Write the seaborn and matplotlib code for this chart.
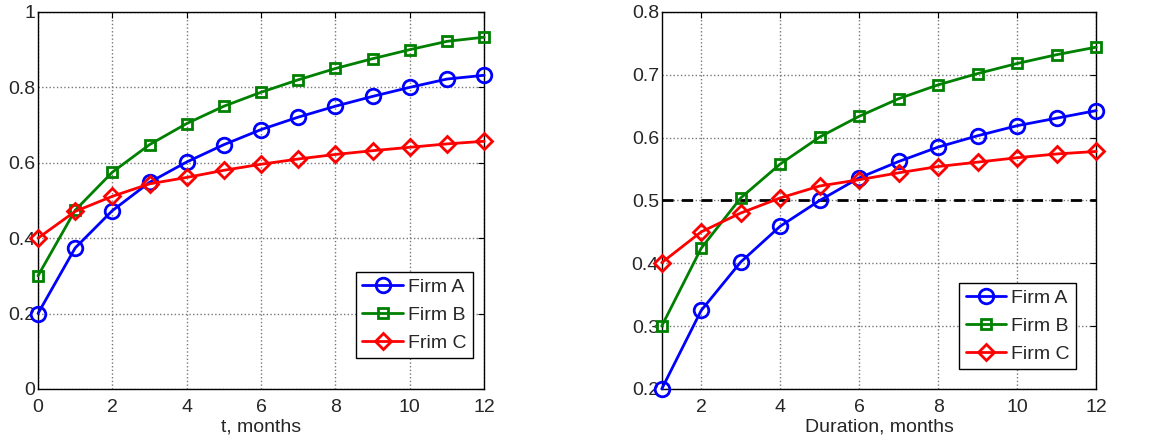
import matplotlib
matplotlib.use('Agg')
import matplotlib.pyplot as plt
import seaborn as sns

# left panel: t = 0..12
t_left = list(range(0, 13))
firm_a_left = [0.200, 0.374, 0.473, 0.548, 0.602, 0.648, 0.688, 0.721, 0.750, 0.776, 0.800, 0.822, 0.832]
firm_b_left = [0.300, 0.474, 0.575, 0.648, 0.704, 0.750, 0.787, 0.820, 0.850, 0.876, 0.900, 0.922, 0.933]
firm_c_left = [0.400, 0.471, 0.511, 0.544, 0.561, 0.580, 0.596, 0.610, 0.622, 0.632, 0.641, 0.650, 0.657]

# right panel: duration = 1..12
t_right = list(range(1, 13))
firm_a_right = [0.200, 0.325, 0.402, 0.459, 0.500, 0.536, 0.562, 0.585, 0.603, 0.619, 0.631, 0.643]
firm_b_right = [0.300, 0.424, 0.504, 0.558, 0.601, 0.634, 0.662, 0.684, 0.702, 0.718, 0.732, 0.744]
firm_c_right = [0.401, 0.450, 0.480, 0.504, 0.523, 0.533, 0.544, 0.554, 0.561, 0.568, 0.574, 0.578]
threshold = 0.5

labels = ['Firm A', 'Firm B', 'Frim C']
labels_right = ['Firm A', 'Firm B', 'Firm C']
colors = ['#0000ff', '#008000', '#ff0000']
markers = ['o', 's', 'D']
msizes = [10.5, 7.5, 8.5]

sns.set_style('white')
plt.rcParams['font.family'] = ['Liberation Sans', 'DejaVu Sans']

fig = plt.figure(figsize=(11.65, 4.42), dpi=100)
ax1 = fig.add_axes([0.0326, 0.12, 0.383, 0.853])
ax2 = fig.add_axes([0.568, 0.12, 0.373, 0.853])


def draw_series(ax, x, ys, names):
    for y, name, c, m, ms in zip(ys, names, colors, markers, msizes):
        sns.lineplot(x=x, y=y, ax=ax, color=c, marker=m, markersize=ms,
                     markerfacecolor='none', markeredgecolor=c, markeredgewidth=2,
                     linewidth=2, label=name, clip_on=False, zorder=3)


def style_axes(ax):
    ax.grid(True, linestyle=':', color='#777777', linewidth=1)
    ax.tick_params(direction='in', top=True, right=True, labelsize=14,
                   length=4, color='black')
    ax.tick_params(axis='x', pad=7)
    ax.tick_params(axis='y', pad=2)
    for s in ax.spines.values():
        s.set_color('black')
        s.set_linewidth(1)
    ax.set_ylabel('')
    leg = ax.get_legend()
    leg.get_frame().set_edgecolor('black')
    leg.get_frame().set_linewidth(1)
    leg.set_zorder(5)


leg_kw = dict(fontsize=14, fancybox=False, framealpha=1, handlelength=2.1,
              borderpad=0.33, labelspacing=0.52, handletextpad=0.25,
              borderaxespad=0)

draw_series(ax1, t_left, [firm_a_left, firm_b_left, firm_c_left], labels)
ax1.set_xlim(0, 12)
ax1.set_ylim(0, 1)
ax1.set_xticks(range(0, 13, 2))
ax1.set_yticks([0, 0.2, 0.4, 0.6, 0.8, 1])
ax1.set_yticklabels(['0', '0.2', '0.4', '0.6', '0.8', '1'])
ax1.set_xlabel('t, months', fontsize=14, labelpad=2)
ax1.legend(loc='lower right', bbox_to_anchor=(0.975, 0.082), **leg_kw)
style_axes(ax1)

draw_series(ax2, t_right, [firm_a_right, firm_b_right, firm_c_right], labels_right)
ax2.axhline(threshold, color='black', linestyle='--', linewidth=2, dashes=(4, 3))
ax2.set_xlim(1, 12)
ax2.set_ylim(0.2, 0.8)
ax2.set_xticks(range(2, 13, 2))
ax2.set_yticks([0.2, 0.3, 0.4, 0.5, 0.6, 0.7, 0.8])
ax2.set_yticklabels(['0.2', '0.3', '0.4', '0.5', '0.6', '0.7', '0.8'])
ax2.set_xlabel('Duration, months', fontsize=14, labelpad=2)
ax2.legend(loc='lower right', bbox_to_anchor=(0.954, 0.053), **leg_kw)
style_axes(ax2)

fig.savefig('out.png', dpi=100)
